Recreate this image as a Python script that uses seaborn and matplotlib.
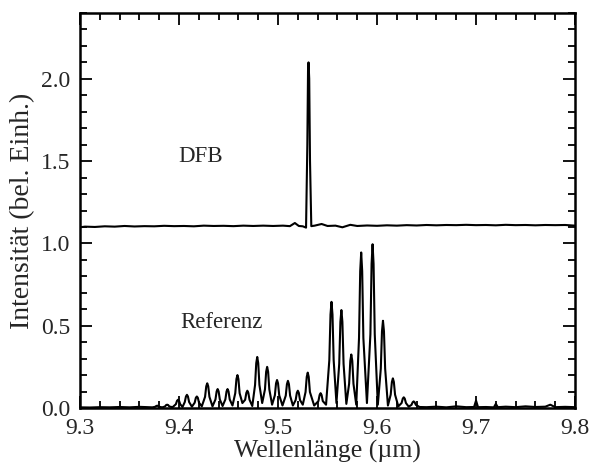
import pandas as pd
import matplotlib
matplotlib.use("Agg")
import matplotlib.pyplot as plt
import seaborn as sns
from matplotlib.ticker import MultipleLocator

# Referenz spectrum: baseline noise, then each
# mode with its top, shoulder and flank heights and the valley after it
ref_left_wl = [9.300, 9.310, 9.320, 9.330, 9.340, 9.350, 9.360, 9.368, 9.373]
ref_left_int = [0.004, 0.003, 0.005, 0.004, 0.006, 0.004, 0.007, 0.005, 0.004]

peak_wl = [9.378, 9.388, 9.399, 9.408, 9.418, 9.4285, 9.439, 9.449, 9.459,
           9.469, 9.479, 9.489, 9.499, 9.510, 9.520, 9.530, 9.543, 9.554,
           9.564, 9.574, 9.584, 9.5955, 9.606, 9.616, 9.627, 9.637]
peak_h = [0.014, 0.020, 0.050, 0.080, 0.070, 0.150, 0.115, 0.115, 0.200,
          0.105, 0.310, 0.250, 0.170, 0.165, 0.105, 0.215, 0.090, 0.645,
          0.595, 0.325, 0.945, 0.995, 0.530, 0.180, 0.065, 0.040]
shoulder_h = [0.012, 0.018, 0.044, 0.070, 0.062, 0.132, 0.101, 0.101, 0.176,
              0.092, 0.273, 0.220, 0.150, 0.145, 0.092, 0.189, 0.079, 0.568,
              0.524, 0.286, 0.832, 0.876, 0.466, 0.158, 0.057, 0.035]
flank_h = [0.007, 0.009, 0.023, 0.036, 0.032, 0.068, 0.052, 0.052, 0.090,
           0.050, 0.140, 0.113, 0.077, 0.075, 0.048, 0.097, 0.042, 0.290,
           0.268, 0.147, 0.425, 0.448, 0.239, 0.081, 0.030, 0.019]
valley_wl = [9.383, 9.3935, 9.4035, 9.413, 9.423, 9.4338, 9.444, 9.454, 9.464,
             9.474, 9.484, 9.494, 9.5045, 9.515, 9.525, 9.5365, 9.5485, 9.559,
             9.569, 9.579, 9.5898, 9.6008, 9.611, 9.6215, 9.632, 9.643]
valley_h = [0.004, 0.005, 0.006, 0.008, 0.010, 0.010, 0.012, 0.015, 0.030,
            0.012, 0.030, 0.020, 0.015, 0.015, 0.020, 0.015, 0.020, 0.030,
            0.025, 0.020, 0.030, 0.020, 0.015, 0.010, 0.008, 0.006]

ref_right_wl = [9.650, 9.660, 9.670, 9.680, 9.690, 9.698, 9.700, 9.702, 9.710,
                9.718, 9.720, 9.722, 9.730, 9.740, 9.750, 9.760, 9.770, 9.775,
                9.780, 9.790, 9.800]
ref_right_int = [0.005, 0.008, 0.004, 0.010, 0.005, 0.006, 0.045, 0.005, 0.006,
                 0.004, 0.025, 0.005, 0.008, 0.005, 0.010, 0.006, 0.008, 0.020,
                 0.005, 0.007, 0.005]

# DFB spectrum (offset baseline ~1.1, single mode at ~9.53 um)
dfb_wl = [
    9.300, 9.305, 9.315, 9.325, 9.335, 9.345, 9.355, 9.365, 9.375, 9.385,
    9.395, 9.405, 9.415, 9.425, 9.435, 9.445, 9.455, 9.465, 9.475, 9.485,
    9.495, 9.505, 9.512, 9.517, 9.521, 9.525, 9.5283, 9.5296, 9.5303, 9.5308,
    9.5315, 9.5323, 9.5336, 9.537, 9.544, 9.550, 9.558, 9.565, 9.573, 9.580,
    9.590, 9.600, 9.610, 9.620, 9.630, 9.640, 9.650, 9.660, 9.670, 9.680,
    9.690, 9.700, 9.710, 9.720, 9.730, 9.740, 9.750, 9.760, 9.770, 9.780,
    9.790, 9.800,
]
dfb_int = [
    1.098, 1.102, 1.100, 1.104, 1.102, 1.106, 1.103, 1.105, 1.104, 1.107,
    1.105, 1.106, 1.104, 1.108, 1.106, 1.107, 1.105, 1.108, 1.106, 1.108,
    1.106, 1.108, 1.105, 1.124, 1.106, 1.104, 1.096, 1.600, 2.050, 2.100,
    2.000, 1.500, 1.105, 1.108, 1.118, 1.106, 1.108, 1.098, 1.113, 1.106,
    1.109, 1.107, 1.110, 1.108, 1.111, 1.109, 1.112, 1.110, 1.112, 1.111,
    1.113, 1.111, 1.112, 1.110, 1.113, 1.111, 1.112, 1.110, 1.112, 1.111,
    1.112, 1.108,
]


def build_ref():
    wl = list(ref_left_wl)
    inten = list(ref_left_int)
    for i in range(len(peak_wl)):
        p = peak_wl[i]
        wl += [p - 0.0022, p - 0.001, p, p + 0.001, p + 0.0022, valley_wl[i]]
        inten += [flank_h[i], shoulder_h[i], peak_h[i], shoulder_h[i],
                  flank_h[i], valley_h[i]]
    wl += ref_right_wl
    inten += ref_right_int
    return pd.DataFrame({'wl': wl, 'I': inten})


def main():
    sns.set_theme(style="ticks")
    plt.rcParams['font.family'] = ['Liberation Serif', 'DejaVu Serif']

    ref = build_ref()
    dfb = pd.DataFrame({'wl': dfb_wl, 'I': dfb_int})

    fig = plt.figure(figsize=(5.91, 4.65), dpi=100)
    ax = fig.add_axes([0.1354, 0.1226, 0.8376, 0.8494])

    sns.lineplot(data=ref, x='wl', y='I', color='black', lw=1.5,
                 estimator=None, sort=False, ax=ax)
    sns.lineplot(data=dfb, x='wl', y='I', color='black', lw=1.5,
                 estimator=None, sort=False, ax=ax)

    ax.set_xlim(9.3, 9.8)
    ax.set_ylim(0, 2.4)
    ax.xaxis.set_major_locator(MultipleLocator(0.1))
    ax.xaxis.set_minor_locator(MultipleLocator(0.02))
    ax.yaxis.set_major_locator(MultipleLocator(0.5))
    ax.yaxis.set_minor_locator(MultipleLocator(0.1))
    ax.tick_params(which='both', direction='in', top=True, right=True,
                   width=1.3, labelsize=17, color='black')
    ax.tick_params(which='major', length=8.5, pad=7)
    ax.tick_params(which='minor', length=5)
    for s in ax.spines.values():
        s.set_linewidth(1.8)
        s.set_color('black')

    ax.set_xlabel('Wellenlänge (µm)', fontsize=18.5, labelpad=1)
    ax.set_ylabel('Intensität (bel. Einh.)', fontsize=20, labelpad=4)

    ax.text(9.422, 1.53, 'DFB', fontsize=16.5, ha='center', va='center')
    ax.text(9.443, 0.52, 'Referenz', fontsize=16.5, ha='center', va='center')

    fig.savefig('out.png', dpi=100)


if __name__ == "__main__":
    main()
